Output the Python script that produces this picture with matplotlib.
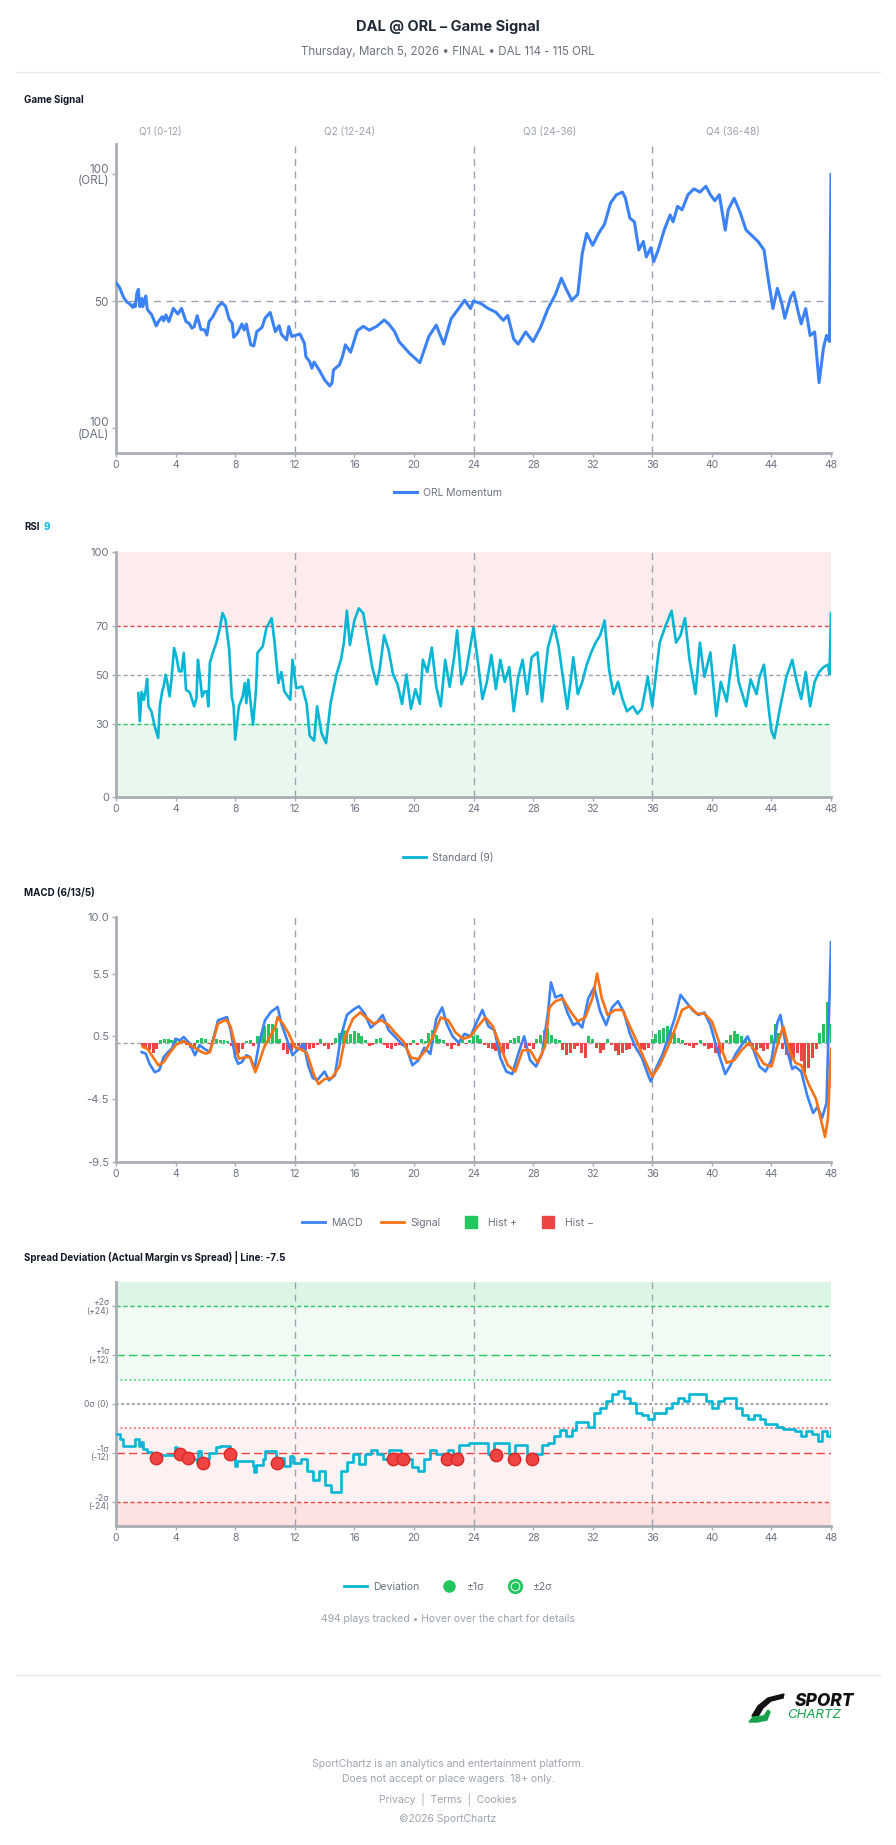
import numpy as np
import matplotlib.pyplot as plt
from matplotlib.lines import Line2D
from matplotlib.patches import Polygon
from matplotlib.legend_handler import HandlerTuple

plt.rcParams['font.family'] = ['Inter', 'DejaVu Sans']

# ---- data ----
quarter_labels = ['Q1 (0-12)', 'Q2 (12-24)', 'Q3 (24-36)', 'Q4 (36-48)']
quarter_label_x = [3.0, 15.7, 29.1, 41.4]

gs_t = [0, 0.22, 0.49, 0.71, 0.94, 1.12, 1.2, 1.3, 1.4, 1.5, 1.6, 1.73, 1.8, 2.0, 2.1,
        2.4, 2.7, 2.85, 3.1, 3.2, 3.35, 3.55, 3.85, 4.15, 4.4, 4.7, 4.9, 5.1, 5.25, 5.45,
        5.7, 5.95, 6.1, 6.25, 6.5, 6.85, 7.1, 7.35, 7.6, 7.8, 7.9, 8.15, 8.45, 8.6, 8.75,
        8.85, 9.05, 9.25, 9.45, 9.8, 10.0, 10.35, 10.7, 10.95, 11.1, 11.45, 11.6, 11.8,
        12.35, 12.65, 12.75, 13.0, 13.15, 13.3, 13.7, 14.0, 14.35, 14.5, 14.6, 15.0, 15.2,
        15.4, 15.75, 16.2, 16.6, 17.0, 17.5, 18.0, 18.3, 18.7, 19.0, 19.7, 20.4, 21.0, 21.5,
        22.0, 22.5, 23.0, 23.4, 23.8, 24.0, 24.5, 25.0, 25.5, 26.0, 26.3, 26.7, 27.0, 27.5,
        28.0, 28.5, 29.0, 29.5, 29.9, 30.2, 30.6, 31.0, 31.3, 31.6, 32.0, 32.4, 32.8, 33.2,
        33.6, 34.0, 34.2, 34.5, 34.8, 35.1, 35.4, 35.6, 35.9, 36.1, 36.4, 36.8, 37.2, 37.4,
        37.7, 38.0, 38.4, 38.8, 39.2, 39.6, 39.9, 40.2, 40.5, 40.9, 41.1, 41.5, 41.9, 42.3,
        42.7, 43.1, 43.5, 43.8, 44.1, 44.4, 44.7, 44.9, 45.3, 45.5, 45.8, 46.0, 46.3, 46.6,
        46.9, 47.2, 47.5, 47.7, 47.9, 48.0]
gs_v = [57.2, 55.6, 51.7, 49.7, 48.8, 47.5, 48.7, 47.8, 53, 54.6, 47.8, 51, 47.8, 52, 46.7,
        44.5, 40.2, 41.9, 43.8, 42.2, 44.5, 41.9, 47.1, 44.9, 47.1, 41.9, 41.2, 39.3, 39.9, 44.2,
        38.8, 38.6, 36.6, 41.9, 43.8, 47.8, 49.3, 48, 42.8, 41.2, 35.7, 37.3, 40.9, 38.6, 40.9,
        37.9, 32.7, 32.3, 37.9, 39.6, 43.2, 45.5, 37.9, 40.3, 36.9, 34.6, 39.9, 36,
        37, 33.3, 28, 26.1, 23.5, 25.9, 22.2, 18.9, 16.5, 17.6, 22.8, 24.8, 28,
        32.7, 29.8, 38.3, 40, 38.5, 40, 42.5, 41, 38, 34, 29.4, 25.7, 36, 40.5,
        33, 43, 47, 50.3, 47, 50, 49, 47, 45.6, 42.4, 44.3, 35, 33, 37.8,
        34, 39.6, 47, 52.6, 59, 55, 50.3, 52.6, 68.8, 76.7, 72, 76.7, 80.4, 88.7,
        92, 93, 90.6, 82.7, 81.3, 70.2, 73.5, 67.4, 71, 65.6, 70.2, 78, 84, 81.3,
        87.4, 86, 92, 94.3, 93, 95.3, 92, 89.6, 92, 78, 86, 90.6, 85, 78,
        75.8, 73.5, 70.2, 58.2, 47, 55, 49, 43.2, 51.7, 53.5, 45.6, 41, 47, 36.4,
        37.8, 17.8, 31.7, 36.4, 34, 100]

rsi_t = [1.5, 1.6, 1.72, 1.87, 1.98, 2.09, 2.18, 2.38, 2.6, 2.83, 2.94, 3.1, 3.2, 3.33, 3.45,
         3.6, 3.72, 3.9, 4.05, 4.23, 4.4, 4.55, 4.7, 4.95, 5.25, 5.4, 5.5, 5.6, 5.78, 5.95,
         6.1, 6.2, 6.3, 6.5, 6.73, 6.95, 7.15, 7.35, 7.6, 7.77, 7.9, 8.0, 8.25, 8.5, 8.65,
         8.75, 8.88, 9.05, 9.2, 9.4, 9.5, 9.85, 10.1, 10.45, 10.65, 10.9, 11.1, 11.3, 11.7,
         11.85, 12.1, 12.5, 12.8, 13.0, 13.3, 13.5, 13.8, 14.1, 14.4, 14.8, 15.1, 15.3, 15.5,
         15.7, 16.0, 16.3, 16.6, 16.9, 17.2, 17.5, 17.7, 18.0, 18.3, 18.6, 18.9, 19.2, 19.5,
         19.8, 20.1, 20.4, 20.6, 20.9, 21.2, 21.5, 21.8, 22.1, 22.4, 22.7, 22.9, 23.2, 23.5,
         23.8, 24.0, 24.3, 24.6, 24.9, 25.2, 25.5, 25.8, 26.1, 26.4, 26.7, 27.0, 27.3, 27.6,
         27.9, 28.3, 28.6, 29.0, 29.4, 29.7, 30.0, 30.3, 30.7, 31.0, 31.3, 31.6, 31.9, 32.2,
         32.5, 32.8, 33.1, 33.4, 33.7, 34.0, 34.3, 34.7, 35.0, 35.3, 35.7, 36.0, 36.5, 36.9,
         37.3, 37.6, 37.9, 38.2, 38.5, 38.9, 39.2, 39.5, 39.9, 40.3, 40.6, 41.0, 41.2, 41.5,
         41.8, 42.3, 42.6, 43.0, 43.2, 43.5, 43.8, 44.0, 44.2, 44.6, 45.0, 45.4, 45.7, 46.0,
         46.3, 46.6, 46.9, 47.2, 47.5, 47.8, 47.9, 48.0]
rsi_v = [42.4, 30.9, 42.9, 39.7, 43.1, 48.2, 37, 34.9, 28.8, 24.1, 37, 43.1, 45.1, 49.9, 46.5,
         41.1, 47.9, 60.8, 57.4, 51.3, 51.3, 58.8, 43.8, 42.7, 37, 40.4, 56, 51, 41, 43.1,
         43.1, 37, 54.7, 58.8, 62.9, 68.3, 75.1, 72.4, 60.1, 41, 37, 23.4, 37, 41, 46.5,
         38.3, 47.9, 37.7, 29.5, 43.8, 58.8, 61.5, 69, 73, 62.9, 46.5, 51, 43.1, 39.7,
         56, 44.4, 45.1, 38, 25, 23, 37, 26, 22, 38, 50, 56, 63, 76,
         62, 72, 77, 75, 64, 53, 46, 52, 66, 60, 50, 46, 38, 50,
         36, 44, 38, 56, 51, 61, 45, 37, 56, 45, 57, 68, 46, 51,
         62, 69, 55, 40, 47, 58, 44, 56, 47, 53, 35, 49, 56, 42,
         57, 59, 39, 61, 70, 62, 49, 36, 57, 42, 47, 54, 59, 63,
         66, 72, 52, 42, 47, 40, 35, 37, 34, 36, 49, 37, 63, 70,
         76, 63, 66, 73, 56, 42, 63, 49, 59, 33, 47, 39, 49, 62,
         47, 37, 48, 42, 49, 54, 37, 27, 24, 37, 49, 56, 47, 40,
         51, 37, 47, 51, 53, 54, 50, 75]

macd_t = [1.72, 2.0, 2.25, 2.6, 2.9, 3.2, 3.5, 3.75, 4.0, 4.3, 4.55, 4.95, 5.3, 5.6, 5.95,
          6.3, 6.85, 7.45, 7.7, 8.0, 8.2, 8.45, 8.75, 9.0, 9.3, 9.6, 10.0, 10.4, 10.85, 11.1,
          11.5, 11.85, 12.25, 12.6, 12.9, 13.2, 13.5, 14.0, 14.3, 14.7, 15.1, 15.5, 15.9, 16.3,
          16.7, 17.1, 17.5, 17.9, 18.3, 18.7, 19.1, 19.5, 19.9, 20.3, 20.7, 21.1, 21.5, 21.9,
          22.2, 22.6, 23.0, 23.4, 23.8, 24.2, 24.6, 25.0, 25.4, 25.8, 26.2, 26.6, 27.0, 27.4,
          27.8, 28.2, 28.6, 29.0, 29.2, 29.5, 29.9, 30.3, 30.7, 31.0, 31.3, 31.7, 32.1, 32.5,
          32.9, 33.3, 33.7, 34.1, 34.5, 34.9, 35.3, 35.7, 35.9, 36.3, 36.7, 37.1, 37.5, 37.9,
          38.3, 38.7, 39.1, 39.5, 39.9, 40.3, 40.6, 40.9, 41.2, 41.6, 42.0, 42.4, 42.8, 43.2,
          43.6, 44.0, 44.4, 44.6, 45.0, 45.4, 45.6, 46.0, 46.4, 46.8, 47.1, 47.4, 47.7, 48.0]
macd_v = [-0.75, -0.88, -1.68, -2.35, -2.2, -1.15, -0.75, -0.48, 0.31, 0.18, 0.45, -0.08, -1.0, -0.2, -0.5,
          -0.75, 1.78, 2.04, 0.98, -1.15, -1.68, -1.55, -1.0, -1.15, -2.08, -0.08, 1.78, 2.44, 2.84, 1.51,
          0.18, -1.0, -0.5, -0.1, -1.8, -2.8, -3.0, -2.3, -3.0, -2.6, 0.5, 2.2, 2.6, 2.9,
          2.3, 1.2, 1.6, 2.2, 1.0, 0.5, 0.0, -0.4, -1.8, -1.4, -0.4, -0.9, 1.9, 2.8,
          1.5, 0.5, 0.0, 0.7, 0.5, 1.6, 2.6, 1.3, 1.0, -1.2, -2.3, -2.5, -0.9, 0.5,
          -1.4, -1.9, -0.9, 2.4, 4.8, 3.6, 3.8, 2.4, 1.4, 1.6, 1.2, 3.5, 4.4, 2.5,
          1.4, 2.8, 3.3, 2.4, 0.7, -0.4, -1.2, -2.5, -3.1, -1.9, -0.9, 0.5, 1.9, 3.8,
          3.2, 2.6, 2.2, 2.4, 1.4, -0.3, -1.4, -2.5, -1.9, -0.9, -0.2, 0.5, -0.6, -1.9,
          -2.3, -1.4, 1.6, 2.2, -0.4, -2.1, -1.9, -2.3, -4.2, -5.6, -5.1, -6.0, -4.8, 8.0]

sig_t = [1.8, 2.1, 2.4, 2.85, 3.2, 3.5, 4.0, 4.5, 5.0, 5.4, 5.75, 6.05, 6.3, 6.85, 7.4,
         7.7, 8.0, 8.25, 8.7, 9.0, 9.35, 9.65, 9.95, 10.45, 10.7, 10.85, 11.2, 11.6, 12.0, 12.3,
         12.8, 13.3, 13.6, 14.0, 14.5, 15.0, 15.4, 15.9, 16.4, 16.9, 17.3, 17.8, 18.3, 18.8,
         19.3, 19.8, 20.3, 20.8, 21.3, 21.8, 22.3, 22.8, 23.3, 23.8, 24.3, 24.8, 25.3, 25.8,
         26.3, 26.8, 27.3, 27.8, 28.3, 28.8, 29.1, 29.5, 30.0, 30.5, 31.0, 31.5, 32.0, 32.3,
         32.6, 33.0, 33.5, 34.0, 34.5, 35.0, 35.5, 36.0, 36.5, 37.0, 37.5, 38.0, 38.5, 39.0,
         39.5, 40.0, 40.5, 41.0, 41.5, 42.0, 42.5, 43.0, 43.5, 44.0, 44.5, 44.8, 45.2, 45.6,
         46.0, 46.5, 47.0, 47.4, 47.6, 47.8, 48.0]
sig_v = [-0.35, -0.48, -1.0, -1.81, -1.55, -1.0, -0.2, 0.13, -0.2, -0.48, -0.75, -0.88, -0.75, 1.51, 1.83,
         1.25, -0.2, -1.28, -1.15, -1.15, -2.35, -1.41, -0.35, 0.71, 1.25, 2.04, 1.51, 0.71, -0.35, -0.48,
         -0.8, -2.6, -3.3, -2.9, -2.8, -1.9, 0.5, 1.9, 2.4, 1.9, 1.5, 1.8, 1.4, 0.7,
         0.1, -1.2, -1.3, -0.6, 0.5, 2.0, 1.8, 0.8, 0.3, 0.5, 1.3, 2.0, 1.3, -0.3,
         -1.8, -2.3, -0.6, -0.6, -1.6, -0.3, 2.8, 3.3, 3.5, 2.5, 1.7, 2.0, 3.6, 5.5,
         3.6, 2.2, 2.6, 2.6, 1.3, 0.0, -1.4, -2.7, -1.8, -0.5, 1.0, 2.6, 2.9, 2.3,
         2.3, 1.7, 0.0, -1.6, -1.4, -0.6, 0.0, -0.8, -1.7, -1.9, 0.2, 1.3, -0.6, -1.6,
         -1.8, -3.3, -4.5, -6.5, -7.5, -6.0, -0.5]

hist_start, hist_step = 1.75, 0.25
hist_v = [-0.3,
          -0.4, -0.6, -0.8, -0.5,  0.2, 0.3, 0.3, 0.2,  0.4, 0.3, 0.2, -0.2,
          -0.4, -0.5, 0.2, 0.4,  0.3, -0.1, 0.2, 0.3,  0.2, 0.2, 0.1, -0.3,
          -1.0, -0.8, -0.5, 0.1,  0.2, -0.3, 0.5, 0.8,  1.3, 1.5, 1.5, 1.2,
          0.3, -0.6, -0.9, -0.7,  -0.2, -0.3, -0.5, -0.6,  -0.5, -0.4, -0.2, 0.3,
          -0.3, -0.5, -0.2, 0.4,  0.8, 1.0, 0.9, 0.7,  0.9, 0.8, 0.5, 0.2,
          -0.3, -0.2, 0.3, 0.4,  -0.2, -0.4, -0.5, -0.3,  -0.2, -0.3, -0.4, -0.2,
          0.2, -0.2, 0.3, 0.1,  0.8, 1.0, 0.6, 0.3,  0.2, -0.3, -0.5, -0.2,
          -0.3, 0.2, -0.1, 0.2,  0.5, 0.6, 0.3, -0.2,  -0.4, -0.5, -0.7, -0.9,
          -0.8, -0.5, 0.2, 0.4,  0.5, -0.2, -0.4, -0.3,  -0.5, 0.3, 0.6, 1.0,
          1.2, 0.6, 0.3, 0.2,  -0.6, -1.0, -0.8, -0.5,  -0.3, -0.8, -1.2, 0.5,
          0.3, -0.4, -0.8, -0.6,  0.3, -0.2, -0.7, -1.0,  -0.8, -0.6, -0.5, -0.3,
          -0.2, -0.5, -0.6, -0.4,  0.3, 0.7, 1.0, 1.2,  1.3, 1.0, 0.8, 0.4,
          0.2, -0.2, -0.3, -0.4,  -0.2, 0.2, -0.3, -0.5,  -0.4, -0.8, -1.0, -0.6,
          0.2, 0.6, 0.9, 0.7,  0.5, 0.3, -0.3, -0.5,  -0.6, -0.4, -0.7, -0.5,
          0.6, 1.5, 0.8, -0.5,  -1.0, -1.6, -1.2, -0.8,  -1.5, -2.4, -2.0, -1.2,
          -0.5, 0.8, 1.5, 3.2,
          1.5]
hist_t = hist_start + hist_step * np.arange(len(hist_v))

sp_t = [0, 0.3, 0.49, 1.28, 1.56, 1.68, 1.84, 2.06, 2.4, 3.96, 4.07, 4.52, 5.42, 5.53, 5.68,
        6.27, 6.71, 6.98, 7.65, 7.87, 7.98, 8.14, 9.17, 9.28, 9.39, 9.88, 9.99, 10.77, 11.3,
        11.67, 11.9, 12.4, 12.8, 13.2, 13.6, 14.0, 14.4, 15.1, 15.5, 15.9, 16.3, 16.7, 17.1,
        17.5, 17.9, 18.3, 19.1, 19.9, 20.3, 20.7, 21.1, 21.5, 22.3, 22.6, 23.0, 23.7, 25.0,
        25.4, 26.4, 26.8, 27.6, 28.2, 28.6, 29.0, 29.4, 29.8, 30.2, 30.6, 30.9, 31.7, 32.1,
        32.5, 32.9, 33.3, 33.7, 34.1, 34.5, 34.9, 35.3, 35.7, 36.1, 36.9, 37.3, 37.7, 38.1,
        38.5, 39.6, 40.0, 40.4, 40.8, 41.6, 42.0, 42.4, 42.8, 43.2, 43.6, 44.4, 44.8, 45.6,
        46.0, 46.3, 46.7, 47.1, 47.4, 47.7, 48.0]
sp_v = [-7.3, -8.7, -10.4, -8.7, -10.4, -9.4, -11.0, -11.8, -12.6, -10.6, -12.0, -13.6, -14.4, -11.6, -13.6,
        -12.0, -10.6, -10.4, -12.0, -12.8, -15.3, -14.0, -15.3, -16.7, -14.9, -13.6, -11.6, -13.4, -15.3,
        -12.8, -14.6, -13.6, -16.5, -18.8, -16.5, -20.0, -21.7, -16.5, -14.2, -12.4, -14.7, -12.4, -11.3,
        -12.4, -13.6, -11.3, -13.6, -15.4, -16.5, -13.6, -11.3, -12.4, -11.3, -12.4, -10.2, -9.6, -12.4,
        -9.6, -12.4, -10.2, -13.6, -12.4, -10.2, -9.6, -7.9, -6.4, -7.9, -6.4, -4.5, -5.7, -2.1,
        -1.0, 0.8, 2.5, 3.1, 1.4, 0.2, -2.1, -2.7, -3.8, -2.1, -1.0, 0.2, 1.4, 0.8,
        2.5, 0.8, -1.0, 0.8, 1.4, -1.0, -2.7, -3.8, -2.7, -3.8, -5.0, -5.6, -6.2, -6.7,
        -7.9, -6.7, -7.3, -9.0, -6.7, -7.9, -6.7]

dot_t = [2.67, 4.3, 4.82, 5.87, 7.65, 10.78, 18.6, 19.25, 22.25, 22.9, 25.5, 26.7, 27.9]
dot_v = [-13.4, -12.4, -13.4, -14.4, -12.4, -14.4, -13.6, -13.6, -13.6, -13.6, -12.5, -13.6, -13.6]

sigma_ticks = [24, 12, 0, -12, -24]
sigma_labels = ['+2σ\n(+24)', '+1σ\n(+12)', '0σ (0)', '-1σ\n(-12)', '-2σ\n(-24)']
macd_ticks = [10.0, 5.5, 0.5, -4.5, -9.5]

# ---- styling ----
W, H = 896, 1845
BLUE = '#3b82f6'
CYAN = '#06b6d4'
ORANGE = '#f97316'
GREEN = '#22c55e'
RED = '#ef4444'
GRID = '#9ca3af'
TICK = '#6b7280'
LIGHT = '#9ca3af'


def fx(px):
    return px / W


def fy(py):
    return 1 - py / H


fig = plt.figure(figsize=(W / 100, H / 100), dpi=100)


def make_axes(top, bottom):
    ax = fig.add_axes([fx(116), fy(bottom), (831 - 116) / W, (bottom - top) / H])
    ax.set_xlim(0, 48)
    ax.set_xticks(range(0, 49, 4))
    for s in ['top', 'right']:
        ax.spines[s].set_visible(False)
    for s in ['left', 'bottom']:
        ax.spines[s].set_color('#a9adb4')
        ax.spines[s].set_linewidth(2)
    ax.tick_params(color='#a9adb4', labelcolor=TICK, labelsize=7.5, length=3, width=1, pad=2)
    for q in (12, 24, 36):
        ax.axvline(q, color=GRID, lw=1, ls=(0, (5, 4)), zorder=1)
    return ax


# header
fig.text(0.5, fy(27), 'DAL @ ORL – Game Signal', ha='center', va='center',
         fontsize=10.5, weight='bold', color='#1f2937')
fig.text(0.5, fy(52), 'Thursday, March 5, 2026 • FINAL • DAL 114 - 115 ORL', ha='center',
         va='center', fontsize=8.3, color=TICK)
fig.add_artist(Line2D([fx(16), fx(880)], [fy(72), fy(72)], color='#e5e7eb', lw=1))


def panel_title(y, txt):
    fig.text(fx(24), fy(y), txt, ha='left', va='center', fontsize=7, weight='bold', color='#111827')


def legend_at(y, handles, labels, **kw):
    fig.legend(handles, labels, loc='center', bbox_to_anchor=(fx(448), fy(y)), frameon=False,
               fontsize=7.5, labelcolor=TICK, handlelength=2.2, handletextpad=0.6,
               columnspacing=1.8, ncol=len(handles), **kw)


# ---- Game Signal ----
panel_title(100, 'Game Signal')
ax1 = make_axes(144, 453)
ax1.set_ylim(-10, 112)
ax1.axhline(50, color=GRID, lw=1, ls=(0, (5, 4)), zorder=1)
ax1.plot(gs_t, gs_v, color=BLUE, lw=2.2, zorder=3, solid_joinstyle='round')
ax1.set_yticks([0, 50, 100])
ax1.set_yticklabels(['100\n(DAL)', '50', '100\n(ORL)'], fontsize=8.4, linespacing=0.95)
for lab in ax1.get_yticklabels():
    lab.set_multialignment('right')
for lab, xq in zip(quarter_labels, quarter_label_x):
    ax1.text(xq, 1 + 12.3 / 309, lab, transform=ax1.get_xaxis_transform(), ha='center',
             va='center', fontsize=7.2, color=LIGHT)
legend_at(493, [Line2D([], [], color=BLUE, lw=2.2)], ['ORL Momentum'])

# ---- RSI ----
fig.text(fx(24), fy(527), 'RSI', ha='left', va='center', fontsize=7, weight='bold', color='#111827')
fig.text(fx(43), fy(527), '9', ha='left', va='center', fontsize=7, weight='bold', color=CYAN)
ax2 = make_axes(552, 797)
ax2.set_ylim(0, 100)
ax2.axhspan(70, 100, color='#fdecec', zorder=0, lw=0)
ax2.axhspan(0, 30, color='#e9f7ee', zorder=0, lw=0)
ax2.axhline(70, color=RED, lw=1, ls=(0, (3, 2)), zorder=1)
ax2.axhline(50, color=GRID, lw=1, ls=(0, (3, 2)), zorder=1)
ax2.axhline(30, color=GREEN, lw=1, ls=(0, (3, 2)), zorder=1)
ax2.plot(rsi_t, rsi_v, color=CYAN, lw=1.9, zorder=3)
ax2.set_yticks([0, 30, 50, 70, 100])
ax2.tick_params(axis='y', labelsize=8)
legend_at(858, [Line2D([], [], color=CYAN, lw=2)], ['Standard (9)'])

# ---- MACD ----
panel_title(893, 'MACD (6/13/5)')
ax3 = make_axes(917, 1162)
ax3.set_ylim(-9.5, 10)
ax3.axhline(0, color=GRID, lw=1, ls=(0, (3, 2)), zorder=1)
ax3.bar(hist_t, hist_v, width=0.2, color=[GREEN if v >= 0 else RED for v in hist_v], zorder=2)
ax3.plot(macd_t, macd_v, color=BLUE, lw=1.9, zorder=3)
ax3.plot(sig_t, sig_v, color=ORANGE, lw=1.9, zorder=4)
ax3.set_yticks(macd_ticks)
ax3.set_yticklabels([f'{v:.1f}' for v in macd_ticks])
ax3.tick_params(axis='y', labelsize=8)
legend_at(1223,
          [Line2D([], [], color=BLUE, lw=2), Line2D([], [], color=ORANGE, lw=2),
           Line2D([], [], ls='', marker='s', markersize=8, color=GREEN),
           Line2D([], [], ls='', marker='s', markersize=8, color=RED)],
          ['MACD', 'Signal', 'Hist +', 'Hist −'])

# ---- Spread deviation ----
panel_title(1257, 'Spread Deviation (Actual Margin vs Spread) | Line: -7.5')
ax4 = make_axes(1282, 1526)
ax4.set_ylim(-30, 30)
ax4.axhspan(6, 30, color='#f1fbf4', zorder=0, lw=0)
ax4.axhspan(24, 30, color='#ddf5e5', zorder=0, lw=0)
ax4.axhspan(-30, -6, color='#fdf1f1', zorder=0, lw=0)
ax4.axhspan(-30, -24, color='#fde2e2', zorder=0, lw=0)
ax4.axhline(24, color=GREEN, lw=1, ls=(0, (3, 2)), zorder=1)
ax4.axhline(12, color=GREEN, lw=1, ls=(0, (6, 3)), zorder=1)
ax4.axhline(6, color='#4ade80', lw=1.3, ls=(0, (1, 1.5)), zorder=1)
ax4.axhline(0, color=GRID, lw=1.6, ls=(0, (1.2, 1.2)), zorder=1)
ax4.axhline(-6, color='#f87171', lw=1.3, ls=(0, (1, 1.5)), zorder=1)
ax4.axhline(-12, color=RED, lw=1, ls=(0, (6, 3)), zorder=1)
ax4.axhline(-24, color=RED, lw=1, ls=(0, (3, 2)), zorder=1)
ax4.plot(sp_t, sp_v, color=CYAN, lw=1.9, drawstyle='steps-post', zorder=3)
ax4.scatter(dot_t, dot_v, s=80, color=RED, edgecolor='#dc2626', lw=1, zorder=4)
ax4.set_yticks(sigma_ticks)
ax4.set_yticklabels(sigma_labels, fontsize=6.2, linespacing=0.95)
for lab in ax4.get_yticklabels():
    lab.set_multialignment('right')
ring = Line2D([], [], ls='', marker='o', markersize=9, markerfacecolor='white',
              markeredgecolor=GREEN, markeredgewidth=2)
inner = Line2D([], [], ls='', marker='o', markersize=4.5, color=GREEN)
legend_at(1587,
          [Line2D([], [], color=CYAN, lw=2),
           Line2D([], [], ls='', marker='o', markersize=8, color=GREEN),
           (ring, inner)],
          ['Deviation', '±1σ', '±2σ'],
          handler_map={tuple: HandlerTuple(ndivide=1)})
fig.text(0.5, fy(1619), '494 plays tracked • Hover over the chart for details', ha='center',
         va='center', fontsize=7.5, color=LIGHT)

# ---- footer ----
fig.add_artist(Line2D([fx(16), fx(880)], [fy(1675), fy(1675)], color='#e5e7eb', lw=1))
fig.text(fx(825), fy(1701), 'SPORT', ha='center', va='center', fontsize=12.5, weight='heavy',
         style='italic', color='#111111')
fig.text(fx(814), fy(1715), 'CHARTZ', ha='center', va='center', fontsize=9.5,
         style='italic', color='#16a34a')
fig.add_artist(Polygon([(fx(752), fy(1716)), (fx(758), fy(1706)), (fx(768), fy(1698)),
                        (fx(784), fy(1694)), (fx(783), fy(1698)), (fx(771), fy(1701)),
                        (fx(763), fy(1708)), (fx(757), fy(1718))],
                       closed=True, transform=fig.transFigure, color='#111111'))
fig.add_artist(Polygon([(fx(749), fy(1722)), (fx(753), fy(1717)), (fx(764), fy(1716)),
                        (fx(768), fy(1710)), (fx(770), fy(1712)), (fx(767), fy(1720)),
                        (fx(757), fy(1722))],
                       closed=True, transform=fig.transFigure, color='#16a34a'))

footer = [(1764, 'SportChartz is an analytics and entertainment platform.'),
          (1779, 'Does not accept or place wagers. 18+ only.'),
          (1799, 'Privacy  |  Terms  |  Cookies'),
          (1819, '©2026 SportChartz')]
for y, txt in footer:
    fig.text(0.5, fy(y), txt, ha='center', va='center', fontsize=7.5, color=LIGHT)

fig.savefig('out.png', dpi=100)
